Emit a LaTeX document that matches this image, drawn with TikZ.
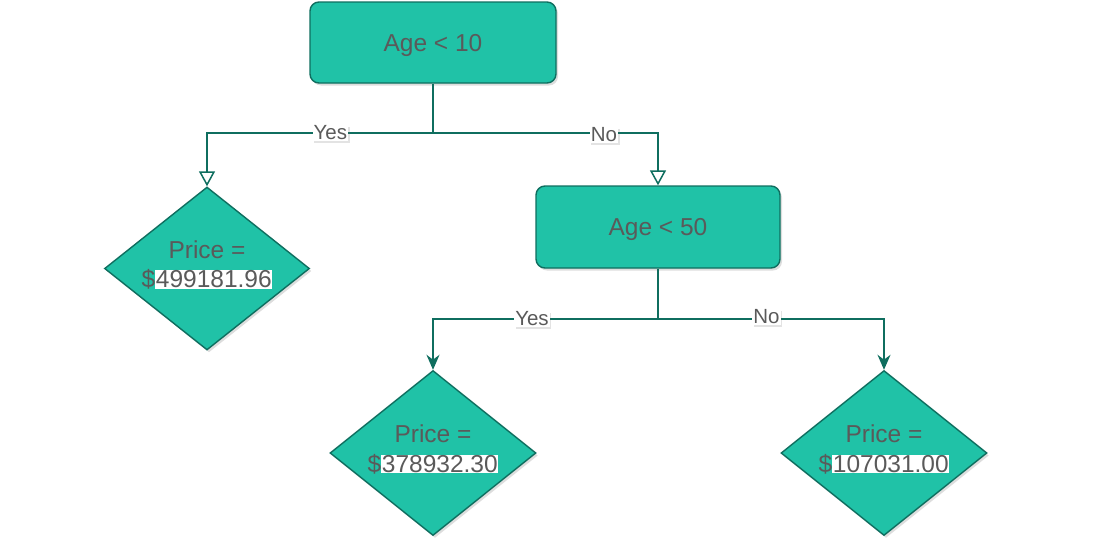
\documentclass[tikz,border=0pt]{standalone}
\usepackage{fontspec}
\setmainfont{Liberation Sans}
\usetikzlibrary{shapes.geometric,arrows.meta,shadows}
\definecolor{tfill}{HTML}{20C2A7}
\definecolor{tline}{HTML}{0F6E5F}
\definecolor{ttext}{HTML}{5A5A5A}
\tikzset{
  shade/.style={drop shadow={shadow xshift=2pt,shadow yshift=-2.5pt,opacity=0.22,fill=black!60}},
  testbox/.style={rectangle,rounded corners=9pt,draw=tline,line width=1.4pt,fill=tfill,shade,
    minimum width=246pt,minimum height=81pt,text=ttext,text depth=0pt,font=\fontsize{24.5}{28}\selectfont},
  leaf/.style={diamond,draw=tline,line width=1.4pt,fill=tfill,shade,inner sep=0pt},
  leaftext/.style={text=ttext,align=center,font=\fontsize{24.5}{29.5}\selectfont,inner sep=0pt},
  link/.style={draw=tline,line width=1.9pt},
  openarrow/.style={link,-{Triangle[open,fill=white,length=15pt,width=16pt,line width=1.5pt]}},
  fullarrow/.style={link,-{Stealth[length=15pt,width=13pt]}},
  lbl/.style={fill=white,text=ttext,font=\fontsize{20.5}{22}\selectfont,inner sep=1pt,
    drop shadow={shadow xshift=1.5pt,shadow yshift=-2pt,opacity=0.18,fill=black!60}},
}
\newcommand{\hl}[1]{{\setlength{\fboxsep}{0.6pt}\colorbox{white}{#1}}}
\begin{document}
\begin{tikzpicture}[x=1pt,y=-1pt]
\useasboundingbox (0,0) rectangle (1116,555);
\node[testbox] (t1) at (433,42.5) {Age < 10};
\node[testbox,minimum width=244pt,minimum height=82pt] (t2) at (658,227) {Age < 50};
\node[leaf,minimum width=205pt,minimum height=163pt] (d1) at (207,268.5) {};
\node[leaftext] (d1t) at (207,265) {Price =\\\$\hl{499181.96}};
\node[leaf,minimum width=206pt,minimum height=165pt] (d2) at (433,453) {};
\node[leaftext] (d2t) at (433,449.5) {Price =\\\$\hl{378932.30}};
\node[leaf,minimum width=206pt,minimum height=165pt] (d3) at (884,453) {};
\node[leaftext] (d3t) at (884,449.5) {Price =\\\$\hl{107031.00}};
\coordinate (j1) at (433,133);
\coordinate (j2) at (658,319);
\draw[link] (t1.south) -- (j1);
\draw[openarrow] (j1) -| node[lbl,pos=0.227]{Yes} (d1.north);
\draw[openarrow] (j1) -| node[lbl,pos=0.38,yshift=-2pt]{No} (t2.north);
\draw[link] (t2.south) -- (j2);
\draw[fullarrow] (j2) -| node[lbl,pos=0.28]{Yes} (d2.north);
\draw[fullarrow] (j2) -| node[lbl,pos=0.24,yshift=2pt]{No} (d3.north);
\end{tikzpicture}
\end{document}
